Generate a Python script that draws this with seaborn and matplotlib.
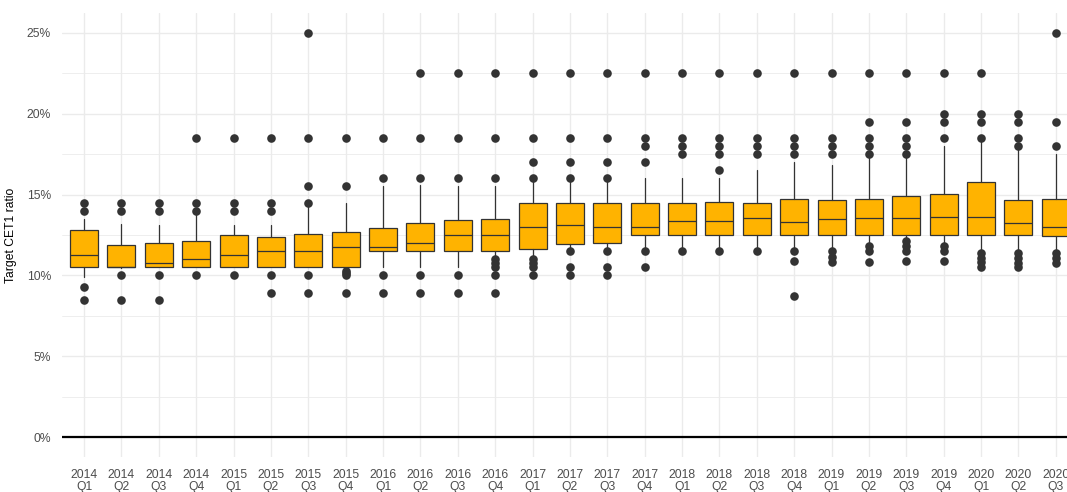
import matplotlib.pyplot as plt
import numpy as np
import pandas as pd
import seaborn as sns
from matplotlib.ticker import FuncFormatter, MultipleLocator

sns.set_theme(style="whitegrid")
plt.rcParams["font.family"] = ["Liberation Sans", "DejaVu Sans"]

# quarters shown on the x axis
quarters = [
    "2014\nQ1", "2014\nQ2", "2014\nQ3", "2014\nQ4",
    "2015\nQ1", "2015\nQ2", "2015\nQ3", "2015\nQ4",
    "2016\nQ1", "2016\nQ2", "2016\nQ3", "2016\nQ4",
    "2017\nQ1", "2017\nQ2", "2017\nQ3", "2017\nQ4",
    "2018\nQ1", "2018\nQ2", "2018\nQ3", "2018\nQ4",
    "2019\nQ1", "2019\nQ2", "2019\nQ3", "2019\nQ4",
    "2020\nQ1", "2020\nQ2", "2020\nQ3",
]

# box statistics (% target CET1 ratio)
whisker_lo = [9.92, 10.45, 10.5, 10.5, 10.5, 10.5, 10.5, 10.5,
              10.5, 10.5, 10.5, 11.0, 11.0, 11.5, 11.5, 11.5,
              11.5, 11.5, 11.5, 11.5, 11.5, 11.8, 12.1, 11.8,
              11.4, 11.4, 11.4]
q1 = [10.5, 10.5, 10.5, 10.5, 10.5, 10.5, 10.5, 10.5,
      11.5, 11.5, 11.5, 11.5, 11.62, 11.93, 12.0, 12.5,
      12.5, 12.5, 12.5, 12.5, 12.5, 12.5, 12.5, 12.5,
      12.5, 12.5, 12.46]
median = [11.25, 10.5, 10.75, 11.0, 11.25, 11.5, 11.5, 11.75,
          11.75, 12.0, 12.5, 12.5, 13.0, 13.12, 13.0, 13.0,
          13.35, 13.37, 13.53, 13.33, 13.47, 13.53, 13.53, 13.6,
          13.61, 13.26, 13.0]
q3 = [12.8, 11.87, 12.0, 12.13, 12.5, 12.37, 12.54, 12.7,
      12.92, 13.26, 13.41, 13.51, 14.5, 14.5, 14.5, 14.5,
      14.5, 14.52, 14.5, 14.7, 14.66, 14.75, 14.94, 15.06,
      15.75, 14.64, 14.75]
whisker_hi = [13.5, 13.19, 13.1, 13.9, 13.1, 13.1, 14.3, 14.5,
              15.5, 15.6, 15.5, 15.5, 16.0, 16.0, 16.0, 16.0,
              16.0, 16.0, 16.5, 17.0, 16.8, 17.5, 17.5, 18.0,
              18.5, 18.0, 17.5]

# outlying banks per quarter
outliers = [
    [14.5, 14.0, 9.3, 8.5],
    [14.5, 14.0, 10.0, 8.5],
    [14.5, 14.0, 10.0, 8.5],
    [18.5, 14.5, 14.0, 10.0],
    [18.5, 14.5, 14.0, 10.0],
    [18.5, 14.5, 14.0, 10.0, 8.9],
    [25.0, 18.5, 15.5, 14.5, 10.0, 8.9],
    [18.5, 15.5, 10.3, 10.15, 10.0, 8.9],
    [18.5, 16.0, 10.0, 8.9],
    [22.5, 18.5, 16.0, 10.0, 8.9],
    [22.5, 18.5, 16.0, 10.0, 8.9],
    [22.5, 18.5, 16.0, 11.0, 10.75, 10.5, 10.0, 8.9],
    [22.5, 18.5, 17.0, 16.0, 11.0, 10.75, 10.5, 10.0],
    [22.5, 18.5, 17.0, 16.0, 11.5, 10.5, 10.0],
    [22.5, 18.5, 17.0, 16.0, 11.5, 10.5, 10.0],
    [22.5, 18.5, 18.0, 17.0, 11.5, 10.5],
    [22.5, 18.5, 18.0, 17.5, 11.5],
    [22.5, 18.5, 18.0, 17.5, 16.5, 11.5],
    [22.5, 18.5, 18.0, 17.5, 11.5],
    [22.5, 18.5, 18.0, 17.5, 11.5, 10.9, 8.7],
    [22.5, 18.5, 18.0, 17.5, 11.5, 11.15, 10.85],
    [22.5, 19.5, 18.5, 18.0, 17.5, 11.8, 11.5, 10.85],
    [22.5, 19.5, 18.5, 18.0, 17.5, 12.1, 11.8, 11.5, 10.9],
    [22.5, 20.0, 19.5, 18.5, 11.8, 11.5, 10.9],
    [22.5, 20.0, 19.5, 18.5, 11.4, 11.1, 10.8, 10.5],
    [20.0, 19.5, 18.5, 18.0, 11.4, 11.05, 10.75, 10.55],
    [25.0, 19.5, 18.0, 11.4, 11.05, 10.75],
]

fill = "#FFB300"
edge = "#333333"

stats = [
    {"whislo": a, "q1": b, "med": c, "q3": d, "whishi": e, "fliers": []}
    for a, b, c, d, e in zip(whisker_lo, q1, median, q3, whisker_hi)
]
out_df = pd.DataFrame(
    [(q, v) for q, vals in zip(quarters, outliers) for v in vals],
    columns=["quarter", "ratio"],
)

fig = plt.figure(figsize=(10.67, 4.92), dpi=100)
ax = fig.add_axes([62 / 1067, 1 - 457.3 / 492, 1 - 62 / 1067, (457.3 - 12.7) / 492])

ax.bxp(
    stats,
    positions=np.arange(len(quarters)),
    widths=0.75,
    patch_artist=True,
    showfliers=False,
    showcaps=False,
    boxprops=dict(facecolor=fill, edgecolor=edge, linewidth=0.9),
    medianprops=dict(color=edge, linewidth=0.9),
    whiskerprops=dict(color=edge, linewidth=0.9),
    zorder=3,
)
sns.stripplot(
    data=out_df, x="quarter", y="ratio", order=quarters,
    jitter=False, color=edge, size=6.2, linewidth=0, ax=ax, zorder=4,
)

ax.axhline(0, color="black", linewidth=1.6, zorder=5)

ax.set_xlim(-0.59, 26.3)
ax.set_ylim(-1.25, 26.25)
ax.set_xticks(np.arange(len(quarters)))
ax.set_xticklabels(quarters)
ax.yaxis.set_major_locator(MultipleLocator(5))
ax.yaxis.set_minor_locator(MultipleLocator(2.5))
ax.yaxis.set_major_formatter(FuncFormatter(lambda v, _: f"{v:.0f}%"))

ax.grid(which="major", axis="both", color="#EBEBEB", linewidth=1.0)
ax.grid(which="minor", axis="y", color="#EBEBEB", linewidth=0.6)
ax.set_axisbelow(True)
for s in ax.spines.values():
    s.set_visible(False)

ax.tick_params(axis="both", which="both", length=0, labelsize=8.7, labelcolor="#4D4D4D")
ax.tick_params(axis="x", pad=8.5)
ax.tick_params(axis="y", pad=8)
for t in ax.get_xticklabels():
    t.set_linespacing(1.0)

ax.set_xlabel("")
ax.set_ylabel("Target CET1 ratio", fontsize=8.7, color="black", labelpad=7)

fig.savefig("out.png", dpi=100)
